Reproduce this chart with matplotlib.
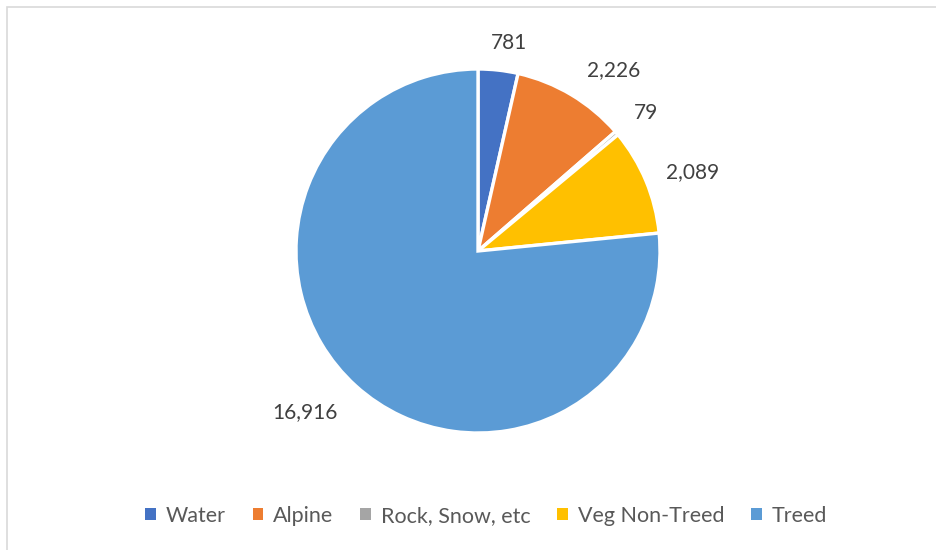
import numpy as np
import matplotlib.pyplot as plt
from matplotlib.patches import Rectangle

# land cover classes and their areas
categories = ['Water', 'Alpine', 'Rock, Snow, etc', 'Veg Non-Treed', 'Treed']
areas = [781, 2226, 79, 2089, 16916]
value_labels = ['781', '2,226', '79', '2,089', '16,916']
colors = ['#4472C4', '#ED7D31', '#A5A5A5', '#FFC000', '#5B9BD5']

plt.rcParams['font.family'] = ['Lato', 'DejaVu Sans']

fig = plt.figure(figsize=(9.36, 5.5), dpi=100)

# light chart-area frame (only top/left visible in the reference)
fig.patches.append(Rectangle((7 / 936, -0.1), 1.2, 1 - 7 / 550 + 0.1,
                             transform=fig.transFigure, fill=False,
                             edgecolor='#D9D9D9', linewidth=1.2))

# pie centre ~ (478, 251) px, radius ~ 182 px
cx, cy, r = 478, 251, 182
ax = fig.add_axes([(cx - r) / 936, (550 - cy - r) / 550, 2 * r / 936, 2 * r / 550])

wedges, texts = ax.pie(areas, colors=colors, startangle=90, counterclock=False,
                       labels=value_labels, labeldistance=1.22,
                       wedgeprops=dict(edgecolor='white', linewidth=2.4),
                       textprops=dict(fontsize=15, color='#404040'))
ax.set_xlim(-1, 1)
ax.set_ylim(-1, 1)

# nudge labels to roughly where the reference places them
dist = [1.155, 1.24, 1.195, 1.255, 1.30]
angles = [-2, -6, -1, -2.4, -5]
for w, t, d, da in zip(wedges, texts, dist, angles):
    mid = np.deg2rad((w.theta1 + w.theta2) / 2 + da)
    t.set_position((d * np.cos(mid), d * np.sin(mid)))
    t.set_ha('center')
    t.set_va('center')

leg = fig.legend(wedges, categories, loc='center', bbox_to_anchor=(486 / 936, 1 - 516 / 550),
                 ncol=5, frameon=False, fontsize=15.5, handlelength=0.5, handleheight=0.5,
                 handletextpad=0.45, columnspacing=1.25, labelcolor='#595959')
for h in leg.legend_handles:
    h.set_edgecolor('none')

fig.savefig('out.png', dpi=100)
